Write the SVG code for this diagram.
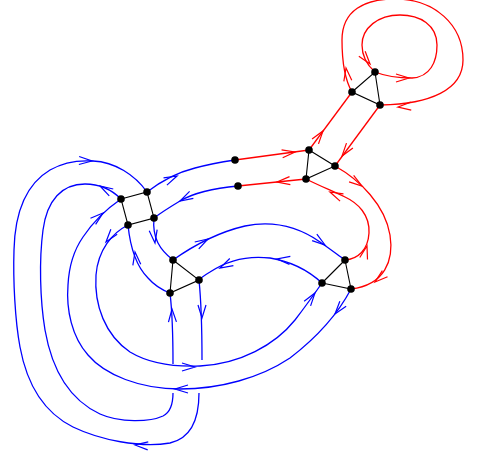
<svg xmlns="http://www.w3.org/2000/svg" width="484" height="456" viewBox="0 0 484 456">
<style>
.b{fill:none;stroke:#0000ff;stroke-width:1.3}
.r{fill:none;stroke:#ff0000;stroke-width:1.3}
.k{fill:none;stroke:#000;stroke-width:1.1}
.ab{stroke:#0000ff;stroke-width:1.2;fill:none}
.ar{stroke:#ff0000;stroke-width:1.2;fill:none}
.n{fill:#000}
</style>
<defs>
<path id="ah" d="M-13,-4 L0,0 L-13,4"/>
</defs>
<rect width="484" height="456" fill="#fff"/>
<g id="connectors">
<!-- blue curves -->
<path class="b" d="M199,393 C199,418 192,438 170,443 C140,448 100,440 73,427 C45,413 27,385 20,347 C15,320 13,280 14,250 C15,210 28,183 50,170 C62,163 78,160 93,161 C115,162 135,175 147,192"/>
<path class="b" d="M199,280 C201,300 202,330 202,360"/>
<path class="b" d="M121,199 C112,190 100,184 85,184 C62,184 47,200 43,230 C39,260 40,300 45,330 C52,370 70,400 100,414 C120,423 150,422 163,416 C171,412 173,403 173,393"/>
<path class="b" d="M170,293 C172,310 173,330 173,364"/>
<path class="b" d="M351,289 C340,310 320,335 290,358 C260,378 220,389 180,389 C140,389 105,375 88,355 C72,337 66,310 68,285 C69,265 74,250 83,237 C93,222 105,210 121,199"/>
<path class="b" d="M128,225 C112,233 98,250 96,275 C94,305 105,335 130,352 C150,364 175,367 200,366 C240,364 275,345 295,320 C305,307 315,293 322,283"/>
<path class="b" d="M128,225 C130,245 135,265 148,278 C155,286 162,290 170,293"/>
<path class="b" d="M154,218 C152,238 160,250 173,260"/>
<path class="b" d="M147,192 C160,182 175,173 195,168 C210,164 222,162 235,160"/>
<path class="b" d="M238,186 C215,188 195,192 180,201 C170,207 162,212 154,218"/>
<path class="b" d="M173,260 C190,248 215,233 245,226 C275,220 300,228 320,242 C330,249 338,255 345,260"/>
<path class="b" d="M322,283 C310,272 295,262 270,258 C245,255 225,262 210,272 C205,275 202,277 199,280"/>
<!-- red curves -->
<path class="r" d="M235,160 L309,150"/>
<path class="r" d="M306,179 L238,186"/>
<path class="r" d="M309,150 L352,92"/>
<path class="r" d="M380,105 L335,166"/>
<path class="r" d="M352,92 C345,80 342,60 342,40 C342,10 365,-1 395,-1 C435,-1 463,25 463,60 C463,90 430,104 381,105"/>
<path class="r" d="M375,72 C385,76 400,78 412,78 C430,77 437,62 437,45 C437,25 420,15 400,15 C378,15 362,28 362,45 C362,56 367,65 375,72"/>
<path class="r" d="M335,166 C360,180 385,205 390,235 C394,260 385,285 351,289"/>
<path class="r" d="M345,260 C358,259 368,250 369,233 C370,215 358,203 345,197 C330,190 318,185 306,179"/>
<!-- black polygon edges -->
<path class="k" d="M121,199 L147,192 L154,218 L128,225 Z"/>
<path class="k" d="M173,260 L199,280 L170,293 Z"/>
<path class="k" d="M345,260 L322,283 L351,289 Z"/>
<path class="k" d="M309,150 L335,166 L306,179 Z"/>
<path class="k" d="M352,92 L375,72 L380,105 Z"/>
<!-- blue arrows -->
<use href="#ah" class="ab" transform="translate(92,161) rotate(2)"/>
<use href="#ah" class="ab" transform="translate(100,186) rotate(210)"/>
<use href="#ah" class="ab" transform="translate(103,213) rotate(-40)"/>
<use href="#ah" class="ab" transform="translate(106,242) rotate(128)"/>
<use href="#ah" class="ab" transform="translate(135,252) rotate(262)"/>
<use href="#ah" class="ab" transform="translate(155,243) rotate(82)"/>
<use href="#ah" class="ab" transform="translate(177,176) rotate(-25)"/>
<use href="#ah" class="ab" transform="translate(180,201) rotate(152)"/>
<use href="#ah" class="ab" transform="translate(208,239) rotate(-30)"/>
<use href="#ah" class="ab" transform="translate(325,245) rotate(36)"/>
<use href="#ah" class="ab" transform="translate(277,259) rotate(186)"/>
<use href="#ah" class="ab" transform="translate(220,268) rotate(153)"/>
<use href="#ah" class="ab" transform="translate(172,309) rotate(268)"/>
<use href="#ah" class="ab" transform="translate(202,318) rotate(90)"/>
<use href="#ah" class="ab" transform="translate(195,367) rotate(0)"/>
<use href="#ah" class="ab" transform="translate(315,293) rotate(-54)"/>
<use href="#ah" class="ab" transform="translate(175,389) rotate(180)"/>
<use href="#ah" class="ab" transform="translate(335,314) rotate(128)"/>
<use href="#ah" class="ab" transform="translate(135,445) rotate(184)"/>
<!-- red arrows -->
<use href="#ah" class="ar" transform="translate(295,152) rotate(-8)"/>
<use href="#ah" class="ar" transform="translate(277,182) rotate(174)"/>
<use href="#ah" class="ar" transform="translate(323,131) rotate(-53.5)"/>
<use href="#ah" class="ar" transform="translate(342,156) rotate(126.4)"/>
<use href="#ah" class="ar" transform="translate(346,68) rotate(-98)"/>
<use href="#ah" class="ar" transform="translate(398,107) rotate(176)"/>
<use href="#ah" class="ar" transform="translate(409,78) rotate(0)"/>
<use href="#ah" class="ar" transform="translate(370,64) rotate(52)"/>
<use href="#ah" class="ar" transform="translate(362,186) rotate(35)"/>
<use href="#ah" class="ar" transform="translate(375,282) rotate(140)"/>
<use href="#ah" class="ar" transform="translate(367,246) rotate(-75)"/>
<use href="#ah" class="ar" transform="translate(330,192) rotate(205)"/>
</g>
<g id="nA"><circle class="n" cx="121" cy="199" r="3.8"/></g>
<g id="nB"><circle class="n" cx="147" cy="192" r="3.8"/></g>
<g id="nC"><circle class="n" cx="154" cy="218" r="3.8"/></g>
<g id="nD"><circle class="n" cx="128" cy="225" r="3.8"/></g>
<g id="nE"><circle class="n" cx="173" cy="260" r="3.8"/></g>
<g id="nF"><circle class="n" cx="199" cy="280" r="3.8"/></g>
<g id="nG"><circle class="n" cx="170" cy="293" r="3.8"/></g>
<g id="nH"><circle class="n" cx="345" cy="260" r="3.8"/></g>
<g id="nI"><circle class="n" cx="322" cy="283" r="3.8"/></g>
<g id="nJ"><circle class="n" cx="351" cy="289" r="3.8"/></g>
<g id="nK"><circle class="n" cx="309" cy="150" r="3.8"/></g>
<g id="nL"><circle class="n" cx="335" cy="166" r="3.8"/></g>
<g id="nM"><circle class="n" cx="306" cy="179" r="3.8"/></g>
<g id="nN"><circle class="n" cx="352" cy="92" r="3.8"/></g>
<g id="nO"><circle class="n" cx="375" cy="72" r="3.8"/></g>
<g id="nP"><circle class="n" cx="380" cy="105" r="3.8"/></g>
<g id="nQ"><circle class="n" cx="235" cy="160" r="3.8"/></g>
<g id="nR"><circle class="n" cx="238" cy="186" r="3.8"/></g>
</svg>
